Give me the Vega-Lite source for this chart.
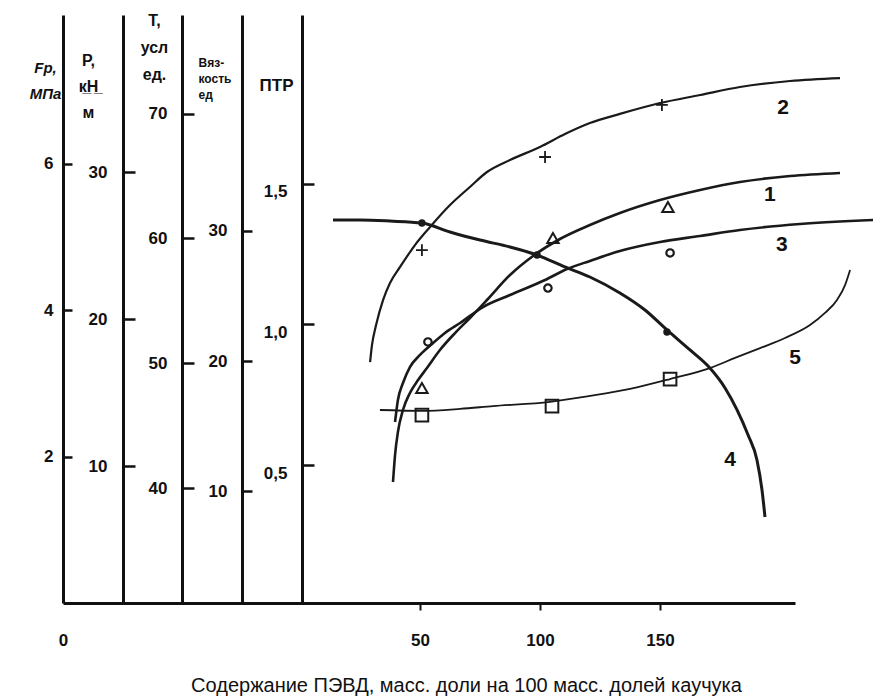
{
  "$schema": "https://vega.github.io/schema/vega-lite/v6.json",
  "autosize": "none",
  "padding": {"left": 63, "top": 15, "right": 79, "bottom": 97},
  "width": 732,
  "height": 588,
  "background": "white",
  "config": {"view": {"stroke": null}},
  "datasets": {
    "lines": [
      {"s": "1", "x": 38.75, "y": 1.652}, {"s": "1", "x": 39.6, "y": 2.021}, {"s": "1", "x": 40.8, "y": 2.335}, {"s": "1", "x": 42.9, "y": 2.636}, {"s": "1", "x": 45.8, "y": 2.868}, {"s": "1", "x": 49.2, "y": 3.045}, {"s": "1", "x": 52.9, "y": 3.209}, {"s": "1", "x": 58.3, "y": 3.455}, {"s": "1", "x": 64.6, "y": 3.687}, {"s": "1", "x": 70.8, "y": 3.892}, {"s": "1", "x": 77.9, "y": 4.138}, {"s": "1", "x": 87.5, "y": 4.479}, {"s": "1", "x": 97.1, "y": 4.739}, {"s": "1", "x": 108.3, "y": 4.971}, {"s": "1", "x": 120.8, "y": 5.162}, {"s": "1", "x": 133.3, "y": 5.326}, {"s": "1", "x": 150, "y": 5.503}, {"s": "1", "x": 166.7, "y": 5.64}, {"s": "1", "x": 183.3, "y": 5.749}, {"s": "1", "x": 204.2, "y": 5.831}, {"s": "1", "x": 225, "y": 5.872},
      {"s": "2", "x": 29.2, "y": 17.09}, {"s": "2", "x": 30, "y": 18.25}, {"s": "2", "x": 31.7, "y": 19.61}, {"s": "2", "x": 34.6, "y": 21.31}, {"s": "2", "x": 37.5, "y": 22.47}, {"s": "2", "x": 41.7, "y": 23.56}, {"s": "2", "x": 47.9, "y": 25.05}, {"s": "2", "x": 54.2, "y": 26.28}, {"s": "2", "x": 62.5, "y": 27.77}, {"s": "2", "x": 70.8, "y": 29.0}, {"s": "2", "x": 77.9, "y": 30.02}, {"s": "2", "x": 87.5, "y": 30.84}, {"s": "2", "x": 100, "y": 31.72}, {"s": "2", "x": 110.4, "y": 32.6}, {"s": "2", "x": 120.8, "y": 33.35}, {"s": "2", "x": 133.3, "y": 33.97}, {"s": "2", "x": 150, "y": 34.71}, {"s": "2", "x": 166.7, "y": 35.26}, {"s": "2", "x": 183.3, "y": 35.8}, {"s": "2", "x": 204.2, "y": 36.21}, {"s": "2", "x": 225, "y": 36.41},
      {"s": "3", "x": 39.6, "y": 45.3}, {"s": "3", "x": 40.8, "y": 47.06}, {"s": "3", "x": 42.9, "y": 48.42}, {"s": "3", "x": 45.8, "y": 49.7}, {"s": "3", "x": 50, "y": 50.67}, {"s": "3", "x": 55, "y": 51.55}, {"s": "3", "x": 60.4, "y": 52.43}, {"s": "3", "x": 66.7, "y": 53.23}, {"s": "3", "x": 76.25, "y": 54.51}, {"s": "3", "x": 87.5, "y": 55.47}, {"s": "3", "x": 102.1, "y": 56.67}, {"s": "3", "x": 111.25, "y": 57.55}, {"s": "3", "x": 120.8, "y": 58.2}, {"s": "3", "x": 133.3, "y": 59.0}, {"s": "3", "x": 150, "y": 59.72}, {"s": "3", "x": 166.7, "y": 60.2}, {"s": "3", "x": 183.3, "y": 60.68}, {"s": "3", "x": 208.3, "y": 61.16}, {"s": "3", "x": 238.75, "y": 61.48},
      {"s": "4", "x": 13.75, "y": 30.84}, {"s": "4", "x": 25, "y": 30.84}, {"s": "4", "x": 37.5, "y": 30.76}, {"s": "4", "x": 50.8, "y": 30.61}, {"s": "4", "x": 62.5, "y": 29.92}, {"s": "4", "x": 75, "y": 29.3}, {"s": "4", "x": 87.5, "y": 28.77}, {"s": "4", "x": 98.75, "y": 28.15}, {"s": "4", "x": 110.4, "y": 27.23}, {"s": "4", "x": 120.8, "y": 26.46}, {"s": "4", "x": 133.3, "y": 25.23}, {"s": "4", "x": 143.75, "y": 23.92}, {"s": "4", "x": 152.9, "y": 22.39}, {"s": "4", "x": 162.5, "y": 20.85}, {"s": "4", "x": 170.8, "y": 19.46}, {"s": "4", "x": 177.1, "y": 17.93}, {"s": "4", "x": 182.1, "y": 16.24}, {"s": "4", "x": 186.7, "y": 14.31}, {"s": "4", "x": 190.4, "y": 12.39}, {"s": "4", "x": 192.5, "y": 10.09}, {"s": "4", "x": 193.75, "y": 8.01},
      {"s": "5", "x": 33.3, "y": 0.696}, {"s": "5", "x": 50.8, "y": 0.693}, {"s": "5", "x": 66.7, "y": 0.7}, {"s": "5", "x": 80.4, "y": 0.71}, {"s": "5", "x": 104.2, "y": 0.725}, {"s": "5", "x": 120.8, "y": 0.746}, {"s": "5", "x": 137.5, "y": 0.771}, {"s": "5", "x": 154.2, "y": 0.806}, {"s": "5", "x": 170.8, "y": 0.845}, {"s": "5", "x": 181.25, "y": 0.881}, {"s": "5", "x": 191.7, "y": 0.916}, {"s": "5", "x": 202.1, "y": 0.952}, {"s": "5", "x": 212.5, "y": 0.998}, {"s": "5", "x": 218.75, "y": 1.041}, {"s": "5", "x": 223.75, "y": 1.087}, {"s": "5", "x": 227.1, "y": 1.14}, {"s": "5", "x": 229.2, "y": 1.194}
    ],
    "marks": [
      {"s": "1", "x": 50.8, "y": 2.936}, {"s": "1", "x": 105.4, "y": 4.984}, {"s": "1", "x": 153.3, "y": 5.408},
      {"s": "2", "x": 50.8, "y": 24.71}, {"s": "2", "x": 102.1, "y": 31.04}, {"s": "2", "x": 150.8, "y": 34.58},
      {"s": "3", "x": 53.3, "y": 51.71}, {"s": "3", "x": 103.3, "y": 56.03}, {"s": "3", "x": 154.2, "y": 58.84},
      {"s": "4", "x": 50.8, "y": 30.61}, {"s": "4", "x": 98.75, "y": 28.15}, {"s": "4", "x": 152.9, "y": 22.23},
      {"s": "5", "x": 50.8, "y": 0.678}, {"s": "5", "x": 105, "y": 0.71}, {"s": "5", "x": 154.2, "y": 0.806}
    ],
    "labels": [
      {"s": "1", "x": 195.8, "y": 5.571, "t": "1"},
      {"s": "2", "x": 201.25, "y": 34.37, "t": "2"},
      {"s": "3", "x": 200.8, "y": 59.48, "t": "3"},
      {"s": "4", "x": 179.2, "y": 12.39, "t": "4"},
      {"s": "5", "x": 206.25, "y": 0.881, "t": "5"}
    ]
  },
  "encoding": {
    "x": {
      "field": "x", "type": "quantitative",
      "scale": {"domain": [-98.75, 206.25], "nice": false, "zero": false},
      "axis": {
        "values": [-98.75, 50, 100, 150],
        "labelExpr": "datum.value < 0 ? '0' : datum.label",
        "grid": false, "labelFlush": false,
        "domainWidth": 3, "domainColor": "#111",
        "tickSize": 7, "tickWidth": 2, "tickColor": "#111",
        "tickOpacity": {"condition": {"test": "datum.value < 0", "value": 0}, "value": 1},
        "labelFont": "Liberation Sans", "labelFontSize": 17, "labelFontWeight": "bold", "labelColor": "#111", "labelPadding": 22,
        "title": "Содержание ПЭВД, масс. доли на 100 масс. долей каучука",
        "titleFont": "Liberation Sans", "titleFontSize": 20, "titleFontWeight": "normal", "titleColor": "#111",
        "titleX": 403, "titleY": 88, "titleAlign": "center", "titleBaseline": "alphabetic"
      }
    }
  },
  "layer": [
    {
      "encoding": {"y": {"field": "y", "type": "quantitative", "scale": {"domain": [0, 8.03], "nice": false, "zero": false},
        "axis": {"orient": "left", "offset": 0, "values": [2, 4, 6], "grid": false,
          "domainWidth": 3, "domainColor": "#111", "tickSize": -9, "tickWidth": 2.5, "tickColor": "#111",
          "labelPadding": 19, "labelFont": "Liberation Sans", "labelFontSize": 17, "labelFontWeight": "bold", "labelColor": "#111",
          "title": ["Fр,", "МПа"], "titleAngle": 0, "titleX": -18, "titleY": 45, "titleAlign": "center", "titleBaseline": "top",
          "titleFont": "Liberation Sans", "titleFontSize": 15, "titleFontWeight": "bold", "titleFontStyle": "italic", "titleColor": "#111", "titleLineHeight": 26}}},
      "layer": [
        {"data": {"name": "lines"}, "transform": [{"filter": "datum.s === '1'"}], "mark": {"type": "line", "interpolate": "monotone", "color": "#1a1a1a", "strokeWidth": 2.6}},
        {"data": {"name": "marks"}, "transform": [{"filter": "datum.s === '1'"}], "mark": {"type": "point", "shape": "triangle-up", "size": 130, "filled": false, "color": "#1a1a1a", "strokeWidth": 2, "opacity": 1}},
        {"data": {"name": "labels"}, "transform": [{"filter": "datum.s === '1'"}], "mark": {"type": "text", "font": "Liberation Sans", "fontSize": 21, "fontWeight": "bold", "color": "#111"}, "encoding": {"text": {"field": "t"}}}
      ]
    },
    {
      "encoding": {"y": {"field": "y", "type": "quantitative", "scale": {"domain": [0.7, 40.7], "nice": false, "zero": false},
        "axis": {"orient": "left", "offset": -60, "values": [10, 20, 30], "grid": false,
          "domainWidth": 3, "domainColor": "#111", "tickSize": -12, "tickWidth": 2.5, "tickColor": "#111",
          "labelPadding": 28, "labelFont": "Liberation Sans", "labelFontSize": 17, "labelFontWeight": "bold", "labelColor": "#111",
          "title": ["P,", "к̲Н̲", "м"], "titleAngle": 0, "titleX": -35, "titleY": 37, "titleAlign": "center", "titleBaseline": "top",
          "titleFont": "Liberation Sans", "titleFontSize": 16, "titleFontWeight": "bold", "titleColor": "#111", "titleLineHeight": 26}}},
      "layer": [
        {"data": {"name": "lines"}, "transform": [{"filter": "datum.s === '2'"}], "mark": {"type": "line", "interpolate": "monotone", "color": "#1a1a1a", "strokeWidth": 2.2}},
        {"data": {"name": "marks"}, "transform": [{"filter": "datum.s === '2'"}], "mark": {"type": "point", "shape": "M -1 0 L 1 0 M 0 -1 L 0 1", "size": 140, "filled": false, "color": "#1a1a1a", "strokeWidth": 1.8, "opacity": 1}},
        {"data": {"name": "labels"}, "transform": [{"filter": "datum.s === '2'"}], "mark": {"type": "text", "font": "Liberation Sans", "fontSize": 21, "fontWeight": "bold", "color": "#111"}, "encoding": {"text": {"field": "t"}}}
      ]
    },
    {
      "encoding": {"y": {"field": "y", "type": "quantitative", "scale": {"domain": [30.8, 77.9], "nice": false, "zero": false},
        "axis": {"orient": "left", "offset": -119, "values": [40, 50, 60, 70], "grid": false,
          "domainWidth": 3, "domainColor": "#111", "tickSize": -12, "tickWidth": 2.5, "tickColor": "#111",
          "labelPadding": 27, "labelFont": "Liberation Sans", "labelFontSize": 17, "labelFontWeight": "bold", "labelColor": "#111",
          "title": ["Т,", "усл", "ед."], "titleAngle": 0, "titleX": -28, "titleY": -3, "titleAlign": "center", "titleBaseline": "top",
          "titleFont": "Liberation Sans", "titleFontSize": 16, "titleFontWeight": "bold", "titleColor": "#111", "titleLineHeight": 27}}},
      "layer": [
        {"data": {"name": "lines"}, "transform": [{"filter": "datum.s === '3'"}], "mark": {"type": "line", "interpolate": "monotone", "color": "#1a1a1a", "strokeWidth": 2.6}},
        {"data": {"name": "marks"}, "transform": [{"filter": "datum.s === '3'"}], "mark": {"type": "point", "shape": "circle", "size": 55, "filled": false, "color": "#1a1a1a", "strokeWidth": 2.2, "opacity": 1}},
        {"data": {"name": "labels"}, "transform": [{"filter": "datum.s === '3'"}], "mark": {"type": "text", "font": "Liberation Sans", "fontSize": 21, "fontWeight": "bold", "color": "#111"}, "encoding": {"text": {"field": "t"}}}
      ]
    },
    {
      "encoding": {"y": {"field": "y", "type": "quantitative", "scale": {"domain": [1.4, 46.6], "nice": false, "zero": false},
        "axis": {"orient": "left", "offset": -179, "values": [10, 20, 30], "grid": false,
          "domainWidth": 3, "domainColor": "#111", "tickSize": -10, "tickWidth": 2.5, "tickColor": "#111",
          "labelPadding": 25, "labelFont": "Liberation Sans", "labelFontSize": 17, "labelFontWeight": "bold", "labelColor": "#111",
          "title": ["Вяз-", "кость", "ед"], "titleAngle": 0, "titleX": -44, "titleY": 42, "titleAlign": "left", "titleBaseline": "top",
          "titleFont": "Liberation Sans", "titleFontSize": 12, "titleFontWeight": "bold", "titleColor": "#111", "titleLineHeight": 16}}},
      "layer": [
        {"data": {"name": "lines"}, "transform": [{"filter": "datum.s === '4'"}], "mark": {"type": "line", "interpolate": "monotone", "color": "#1a1a1a", "strokeWidth": 3}},
        {"data": {"name": "marks"}, "transform": [{"filter": "datum.s === '4'"}], "mark": {"type": "point", "shape": "circle", "size": 55, "filled": true, "color": "#1a1a1a", "opacity": 1}},
        {"data": {"name": "labels"}, "transform": [{"filter": "datum.s === '4'"}], "mark": {"type": "text", "font": "Liberation Sans", "fontSize": 21, "fontWeight": "bold", "color": "#111"}, "encoding": {"text": {"field": "t"}}}
      ]
    },
    {
      "encoding": {"y": {"field": "y", "type": "quantitative", "scale": {"domain": [0.01, 2.1], "nice": false, "zero": false},
        "axis": {"orient": "left", "offset": -239, "values": [0.5, 1, 1.5], "grid": false,
          "labelExpr": "replace(format(datum.value, '.1f'), '.', ',')",
          "domainWidth": 3, "domainColor": "#111", "tickSize": -12, "tickWidth": 2.5, "tickColor": "#111",
          "labelPadding": 27, "labelOffset": 8, "labelFont": "Liberation Sans", "labelFontSize": 17, "labelFontWeight": "bold", "labelColor": "#111",
          "title": "ПТР", "titleAngle": 0, "titleX": -26, "titleY": 62, "titleAlign": "center", "titleBaseline": "top",
          "titleFont": "Liberation Sans", "titleFontSize": 17, "titleFontWeight": "bold", "titleColor": "#111"}}},
      "layer": [
        {"data": {"name": "lines"}, "transform": [{"filter": "datum.s === '5'"}], "mark": {"type": "line", "interpolate": "monotone", "color": "#1a1a1a", "strokeWidth": 1.8}},
        {"data": {"name": "marks"}, "transform": [{"filter": "datum.s === '5'"}], "mark": {"type": "point", "shape": "square", "size": 160, "filled": false, "color": "#1a1a1a", "strokeWidth": 2, "opacity": 1}},
        {"data": {"name": "labels"}, "transform": [{"filter": "datum.s === '5'"}], "mark": {"type": "text", "font": "Liberation Sans", "fontSize": 21, "fontWeight": "bold", "color": "#111"}, "encoding": {"text": {"field": "t"}}}
      ]
    }
  ],
  "resolve": {"scale": {"y": "independent"}, "axis": {"y": "independent"}}
}
